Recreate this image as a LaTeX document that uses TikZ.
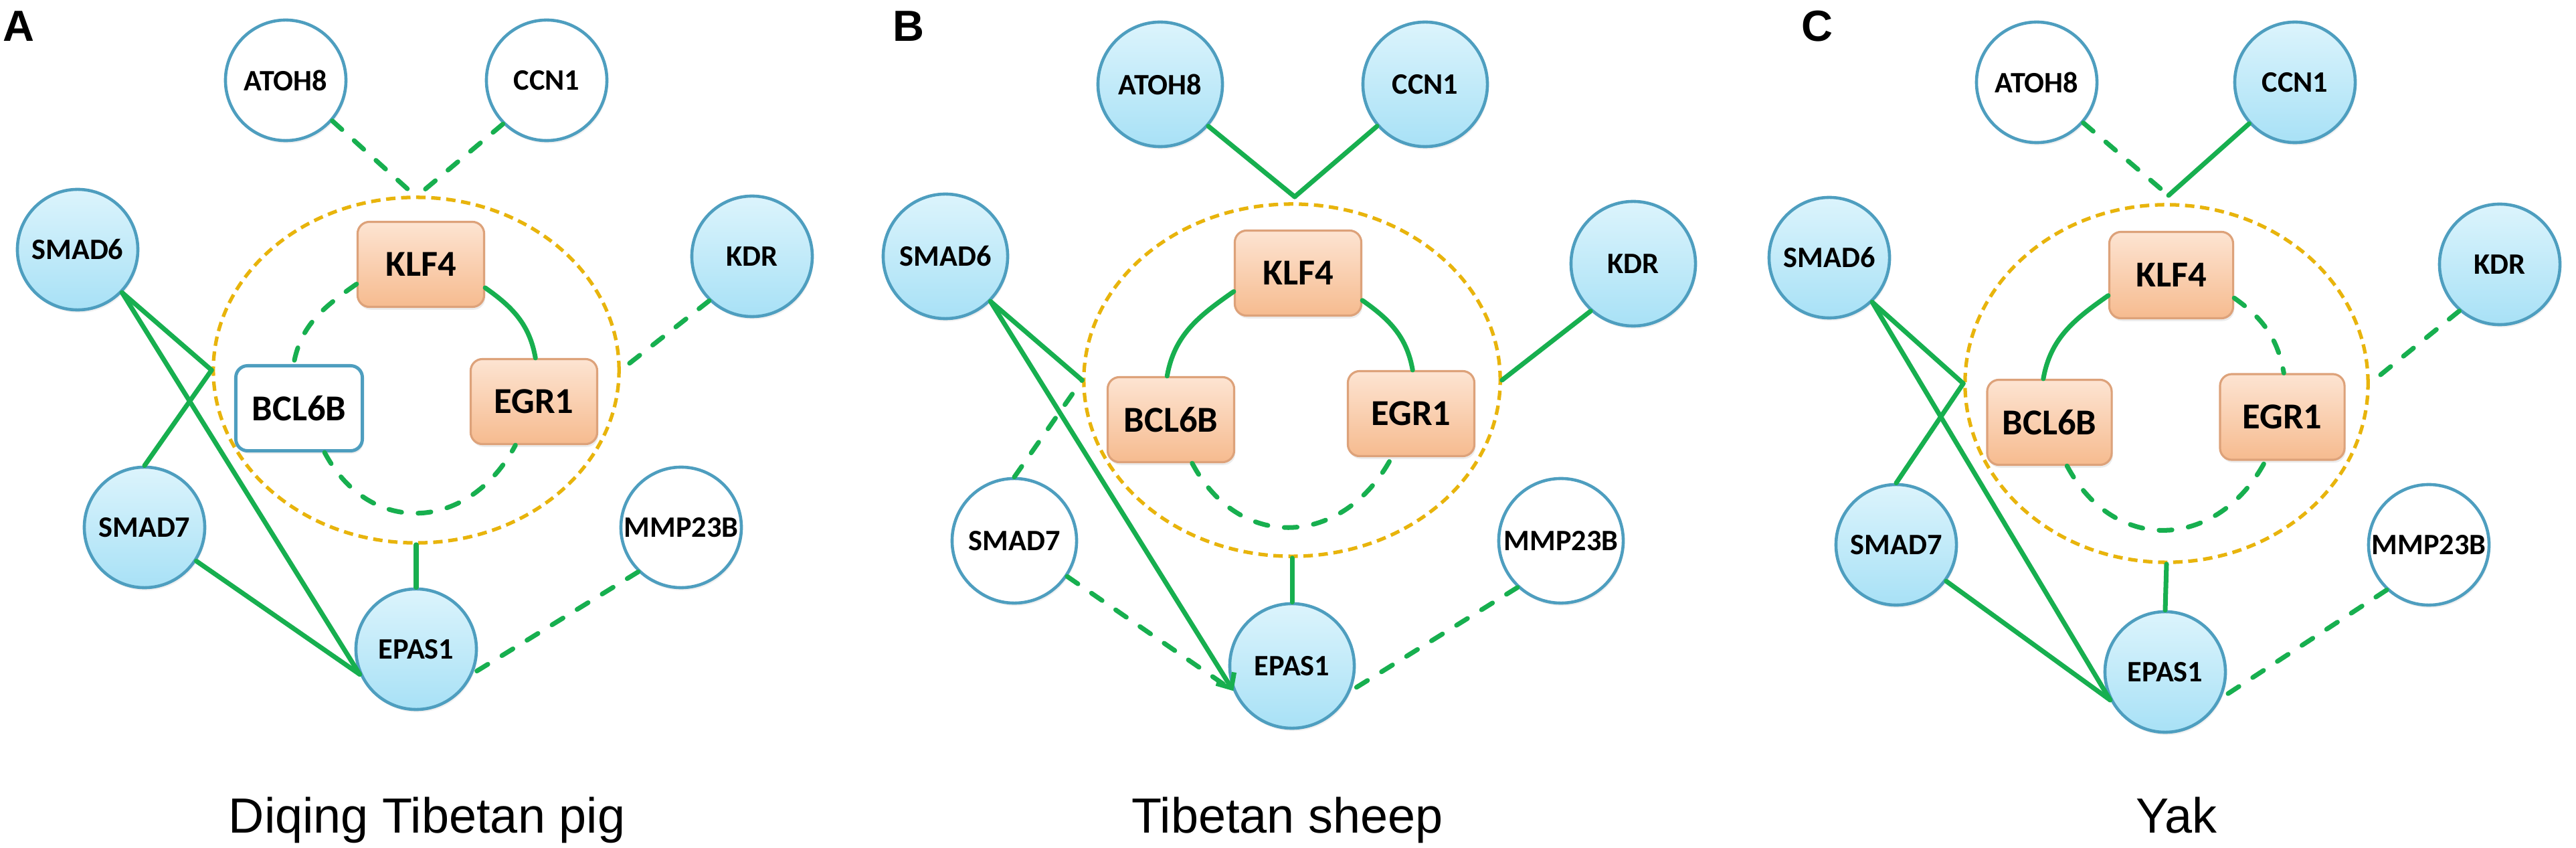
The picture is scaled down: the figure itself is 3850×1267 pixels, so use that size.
\documentclass[tikz,border=0pt]{standalone}
\usepackage{fontspec}
\newfontfamily\carl{Carlito}
\newfontfamily\arialf{Liberation Sans}
\usetikzlibrary{shapes.geometric,arrows.meta,shadows}
\definecolor{lnk}{HTML}{17AF4F}
\definecolor{gold}{HTML}{E8B40C}
\definecolor{cbord}{HTML}{4E9EBF}
\definecolor{ctop}{HTML}{DCF4FC}
\definecolor{cbot}{HTML}{A8E1F6}
\definecolor{otop}{HTML}{FDE4D2}
\definecolor{obot}{HTML}{F6BB8F}
\definecolor{obord}{HTML}{DDA27A}
\tikzset{
  gene/.style={circle, minimum size=1.8cm, inner sep=0pt, line width=1.3pt, draw=cbord,
    font=\carl\bfseries\fontsize{12.6}{14}\selectfont,
    drop shadow={opacity=0.12, shadow xshift=0.5pt, shadow yshift=-1.2pt}},
  genon/.style={gene, top color=ctop, bottom color=cbot},
  genoff/.style={gene, fill=white},
  tf/.style={rectangle, rounded corners=5pt, minimum width=1.89cm, minimum height=1.27cm,
    inner sep=0pt, font=\carl\bfseries\fontsize{15.5}{17}\selectfont,
    drop shadow={opacity=0.15, shadow xshift=0.5pt, shadow yshift=-1.2pt}},
  tfon/.style={tf, draw=obord, line width=0.9pt, top color=otop, bottom color=obot},
  tfoff/.style={tf, draw=cbord, line width=1.4pt, fill=white},
  ringstyle/.style={ellipse, draw=gold, line width=1.5pt, dash pattern=on 4pt off 2.4pt, inner sep=0pt},
  sl/.style={draw=lnk, line width=2pt, line cap=round},
  dl/.style={sl, dash pattern=on 5.5pt off 7pt},
  ttl/.style={font=\arialf\fontsize{21}{25}\selectfont, anchor=base},
  plab/.style={font=\arialf\bfseries\fontsize{18.5}{20}\selectfont, anchor=base west, inner sep=0pt}
}
\begin{document}
\begin{tikzpicture}[x=0.01cm,y=-0.01cm]
\useasboundingbox (0,0) rectangle (3850,1267);

% ---------------- Panel A ----------------
\node[ringstyle, minimum width=6.06cm, minimum height=5.16cm] (a-ell) at (622,553) {};
\node[plab] (a-lab) at (4,62) {A};
\node[genoff] (a-atoh8) at (427,120) {ATOH8};
\node[genoff] (a-ccn1) at (817,120) {CCN1};
\node[genon] (a-smad6) at (116,373) {SMAD6};
\node[genon] (a-kdr) at (1124,383) {KDR};
\node[genon] (a-smad7) at (216,788) {SMAD7};
\node[genoff] (a-mmp) at (1018,788) {MMP23B};
\node[genon] (a-epas1) at (622,970) {EPAS1};
\node[tfon] (a-klf4) at (629,395) {KLF4};
\node[tfoff] (a-bcl) at (447,610) {BCL6B};
\node[tfon] (a-egr) at (798,600) {EGR1};
\coordinate (a-hub) at (622,294);
\node[ttl] (a-title) at (638,1244) {Diqing Tibetan pig};

\draw[dl] (a-atoh8.-41) -- (a-hub);
\draw[dl] (a-ccn1.225) -- (a-hub);
\draw[sl] (a-smad6.-44) -- (a-ell.west);
\draw[sl] (a-smad6.-44) -- (a-epas1.204);
\draw[sl] (a-smad7.90) -- (a-ell.west);
\draw[sl] (a-smad7.-33) -- (a-epas1.204);
\draw[sl] (a-epas1.north) -- (a-ell.south);
\draw[dl] (a-kdr.226) -- (a-ell.east);
\draw[dl] (a-mmp.226) -- (a-epas1.-23);
\draw[dl] (a-klf4.197) to[out=215,in=80] (a-bcl.97);
\draw[sl] (a-klf4.-20) to[out=-35,in=100] (a-egr.88);
\draw[dl] (a-bcl.-60) to[out=-62,in=-118,looseness=1.3] (a-egr.-113);

% ---------------- Panel B ----------------
\node[ringstyle, minimum width=6.22cm, minimum height=5.26cm] (b-ell) at (1931,568) {};
\node[plab] (b-lab) at (1334,62) {B};
\node[genon, minimum size=1.86cm] (b-atoh8) at (1734,126) {ATOH8};
\node[genon, minimum size=1.86cm] (b-ccn1) at (2130,126) {CCN1};
\node[genon, minimum size=1.86cm] (b-smad6) at (1413,383) {SMAD6};
\node[genon, minimum size=1.86cm] (b-kdr) at (2441,394) {KDR};
\node[genoff, minimum size=1.86cm] (b-smad7) at (1516,808) {SMAD7};
\node[genoff, minimum size=1.86cm] (b-mmp) at (2333,808) {MMP23B};
\node[genon, minimum size=1.86cm] (b-epas1) at (1931,995) {EPAS1};
\node[tfon] (b-klf4) at (1940,408) {KLF4};
\node[tfon] (b-bcl) at (1750,627) {BCL6B};
\node[tfon] (b-egr) at (2109,618) {EGR1};
\coordinate (b-hub) at (1935,294);
\node[ttl] (b-title) at (1924,1244) {Tibetan sheep};

\draw[sl] (b-atoh8.-41) -- (b-hub);
\draw[sl] (b-ccn1.221) -- (b-hub);
\draw[sl] (b-smad6.-45) -- (b-ell.west);
\draw[sl, -{Straight Barb[length=5pt,width=9pt]}] (b-smad6.-45) -- (b-epas1.203);
\draw[dl] (b-smad7.90) -- (b-ell.west);
\draw[dl] (b-smad7.-34) -- (b-epas1.203);
\draw[sl] (b-epas1.north) -- (b-ell.south);
\draw[sl] (b-kdr.228) -- (b-ell.east);
\draw[dl] (b-mmp.227) -- (b-epas1.-23);
\draw[sl] (b-klf4.196) to[out=215,in=80] (b-bcl.95);
\draw[sl] (b-klf4.-23) to[out=-35,in=100] (b-egr.88);
\draw[dl] (b-bcl.-64) to[out=-62,in=-118,looseness=1.3] (b-egr.-114);

% ---------------- Panel C ----------------
\node[ringstyle, minimum width=6.02cm, minimum height=5.34cm] (c-ell) at (3238,573) {};
\node[plab] (c-lab) at (2692,62) {C};
\node[genoff] (c-atoh8) at (3044,123) {ATOH8};
\node[genon] (c-ccn1) at (3430,123) {CCN1};
\node[genon] (c-smad6) at (2734,385) {SMAD6};
\node[genon] (c-kdr) at (3736,395) {KDR};
\node[genon] (c-smad7) at (2834,814) {SMAD7};
\node[genoff] (c-mmp) at (3630,814) {MMP23B};
\node[genon] (c-epas1) at (3236,1004) {EPAS1};
\node[tfon, minimum width=1.85cm, minimum height=1.29cm] (c-klf4) at (3245,411) {KLF4};
\node[tfon, minimum width=1.86cm, minimum height=1.27cm] (c-bcl) at (3063,631) {BCL6B};
\node[tfon, minimum width=1.86cm, minimum height=1.28cm] (c-egr) at (3411,623) {EGR1};
\coordinate (c-hub) at (3241,292);
\node[ttl] (c-title) at (3253,1244) {Yak};

\draw[dl] (c-atoh8.-41) -- (c-hub);
\draw[sl] (c-ccn1.222) -- (c-hub);
\draw[sl] (c-smad6.-46) -- (c-ell.west);
\draw[sl] (c-smad6.-46) -- (c-epas1.207);
\draw[sl] (c-smad7.90) -- (c-ell.west);
\draw[sl] (c-smad7.-36) -- (c-epas1.207);
\draw[sl] (c-epas1.north) -- (c-ell.south);
\draw[dl] (c-kdr.229) -- (c-ell.east);
\draw[dl] (c-mmp.227) -- (c-epas1.-25);
\draw[sl] (c-klf4.198) to[out=215,in=80] (c-bcl.98);
\draw[dl] (c-klf4.-20) to[out=-35,in=100] (c-egr.88);
\draw[dl] (c-bcl.-68) to[out=-62,in=-118,looseness=1.3] (c-egr.-111);
\end{tikzpicture}
\end{document}
